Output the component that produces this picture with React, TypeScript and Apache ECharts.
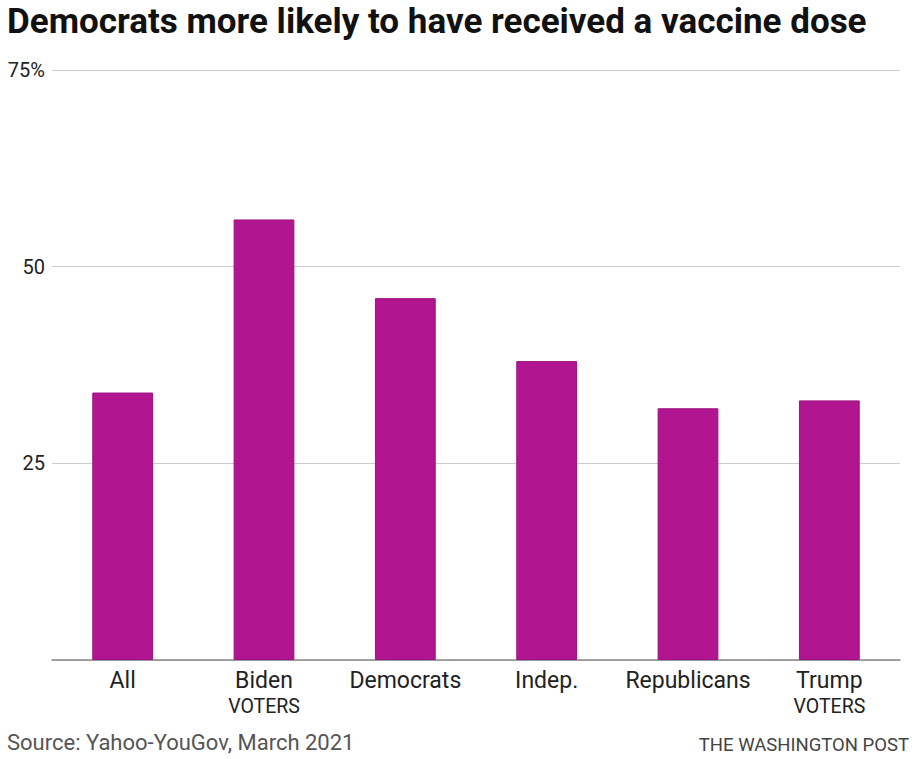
import React, { useEffect, useRef } from "react";
import * as echarts from "echarts";

const categories = ["All", "Biden\nVOTERS", "Democrats", "Indep.", "Republicans", "Trump\nVOTERS"];
const values = [34, 56, 46, 38, 32, 33];
const yTicks = [0, 25, 50, 75];

export default function App() {
  const ref = useRef<HTMLDivElement>(null);
  useEffect(() => {
    if (!ref.current) return;
    const chart = echarts.init(ref.current, null, { renderer: "svg" });
    chart.setOption({
      animation: false,
      backgroundColor: "#ffffff",
      title: [
        {
          text: "Democrats more likely to have received a vaccine dose",
          left: 7,
          top: 4,
          padding: 0,
          textStyle: { fontFamily: "Roboto", fontWeight: "bold", fontSize: 35, color: "#111" },
        },
        {
          text: "Source: Yahoo-YouGov, March 2021",
          left: 7,
          top: 731,
          padding: 0,
          textStyle: { fontFamily: "Roboto", fontWeight: "normal", fontSize: 22, color: "#555" },
        },
        {
          text: "THE WASHINGTON POST",
          right: 7,
          top: 735,
          padding: 0,
          textStyle: { fontFamily: "Roboto", fontWeight: "normal", fontSize: 18.5, color: "#444" },
        },
      ],
      grid: { left: 52, right: 16, top: 70, bottom: 99 },
      xAxis: {
        type: "category",
        data: categories,
        axisTick: { show: false },
        axisLine: { lineStyle: { color: "#888", width: 1.5 } },
        axisLabel: {
          margin: 7,
          formatter: (v: string) => {
            const parts = v.split("\n");
            return parts.length > 1 ? `{a|${parts[0]}}\n{b|${parts[1]}}` : `{a|${parts[0]}}`;
          },
          rich: {
            a: { fontFamily: "Roboto", fontSize: 23, color: "#222", lineHeight: 26 },
            b: { fontFamily: "Roboto", fontSize: 19.5, color: "#222", lineHeight: 26 },
          },
        },
      },
      yAxis: {
        type: "value",
        min: yTicks[0],
        max: yTicks[yTicks.length - 1],
        interval: 25,
        axisLine: { show: false },
        axisTick: { show: false },
        splitLine: { lineStyle: { color: "#cccccc", width: 1 } },
        axisLabel: {
          margin: 7,
          fontFamily: "Roboto",
          fontSize: 20,
          color: "#222",
          formatter: (v: number) => (v === 0 ? "" : v === 75 ? "75%" : String(v)),
        },
      },
      series: [
        {
          type: "bar",
          data: values,
          barWidth: "43%",
          itemStyle: { color: "#b11690", borderColor: "#9e1381", borderWidth: 1 },
        },
      ],
    });
    return () => chart.dispose();
  }, []);
  return <div ref={ref} style={{ width: 916, height: 759, position: "absolute", left: 0, top: 0 }} />;
}
